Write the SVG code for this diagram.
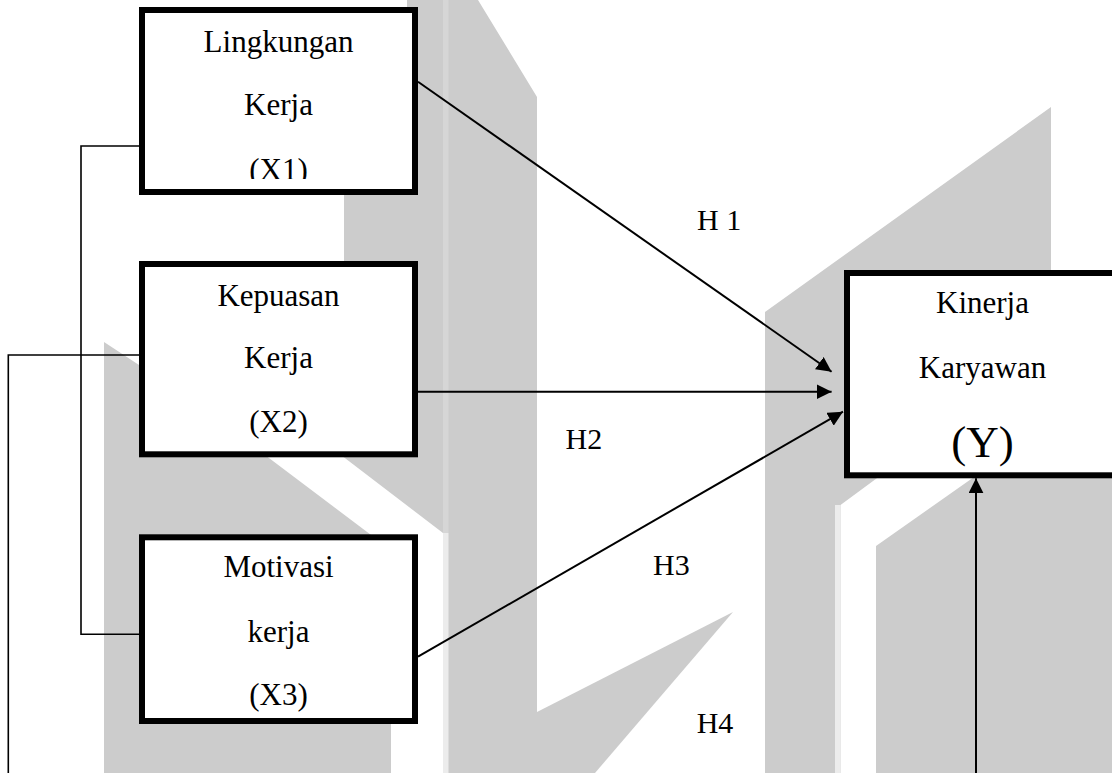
<svg xmlns="http://www.w3.org/2000/svg" width="1112" height="773" viewBox="0 0 1112 773">
<style>
.wm{fill:#cccccc;stroke:none}
.wh{fill:#ffffff;stroke:none}
.box{fill:#ffffff;stroke:#000000;stroke-width:6}
.t{font-family:"Liberation Serif","Times New Roman",serif;font-size:31px;fill:#000000;text-anchor:middle}
.lbl{font-family:"Liberation Serif","Times New Roman",serif;font-size:30px;fill:#000000}
.arr{fill:none;stroke:#000000;stroke-width:2}
.thin{fill:none;stroke:#000000;stroke-width:1.6}
</style>
<defs>
<marker id="ah" markerUnits="userSpaceOnUse" markerWidth="15" markerHeight="15" refX="15" refY="7.5" orient="auto">
<path d="M0,0 L15,7.5 L0,15 z" fill="#000000"/>
</marker>
<clipPath id="clipX1"><rect x="142" y="0" width="273" height="179"/></clipPath>
</defs>
<rect x="0" y="0" width="1112" height="773" fill="#ffffff"/>
<g id="watermark">
<polygon class="wm" points="407,0 478,0 537,97 537,773 104,773 104,342 200,405 344,300 344,190 380,150 407,60"/>
<rect x="443" y="0" width="5.5" height="533" fill="#d6d6d6"/>
<polygon class="wh" points="261,452 337,452 443,533 443,773 391,773 391,550"/>
<rect x="443" y="533" width="5.5" height="240" fill="#ececec"/>
<polygon class="wm" points="537,712 733,612 595,773 537,773"/>
<polygon class="wm" points="765,312 1051,107 1051,300 1112,300 1112,773 765,773"/>
<polygon class="wh" points="840.5,773 840.5,505 888,470 984,470 876,546 876,773"/>
<rect x="835" y="505" width="5.5" height="268" fill="#ececec"/>
</g>
<g id="connectors">
<line class="arr" x1="418" y1="81.7" x2="831.6" y2="371.7" marker-end="url(#ah)"/>
<line class="arr" x1="418" y1="391.7" x2="831.6" y2="391.7" marker-end="url(#ah)"/>
<line class="arr" x1="418" y1="656.7" x2="843" y2="411.7" marker-end="url(#ah)"/>
<line class="arr" x1="976" y1="773" x2="976" y2="478.3" marker-end="url(#ah)"/>
<polyline class="thin" points="139,146 81,146 81,634.3 139,634.3"/>
<polyline class="thin" points="139,355 8.3,355 8.3,773"/>
</g>
<g id="labels">
<text class="lbl" x="697" y="230">H 1</text>
<text class="lbl" x="565.6" y="449.3">H2</text>
<text class="lbl" x="653" y="575">H3</text>
<text class="lbl" x="696.7" y="732.7">H4</text>
</g>
<g id="node-x1">
<rect class="box" x="142" y="10" width="273" height="182"/>
<g clip-path="url(#clipX1)">
<text class="t" x="278.5" y="51.5">Lingkungan</text>
<text class="t" x="278.5" y="115">Kerja</text>
<text class="t" x="278.5" y="179.5">(X1)</text>
</g>
</g>
<g id="node-x2">
<rect class="box" x="142" y="264" width="273" height="190.3"/>
<text class="t" x="278.5" y="306">Kepuasan</text>
<text class="t" x="278.5" y="368.3">Kerja</text>
<text class="t" x="278.5" y="431.7">(X2)</text>
</g>
<g id="node-x3">
<rect class="box" x="142" y="537.3" width="273" height="183.7"/>
<text class="t" x="278.5" y="577.3">Motivasi</text>
<text class="t" x="278.5" y="641.7">kerja</text>
<text class="t" x="278.5" y="705">(X3)</text>
</g>
<g id="node-y">
<rect class="box" x="847" y="273" width="270" height="202.3"/>
<text class="t" x="982.5" y="313.3">Kinerja</text>
<text class="t" x="982.5" y="378.3">Karyawan</text>
<text class="t" x="982.5" y="456.7" style="font-size:45px">(Y)</text>
</g>
</svg>
